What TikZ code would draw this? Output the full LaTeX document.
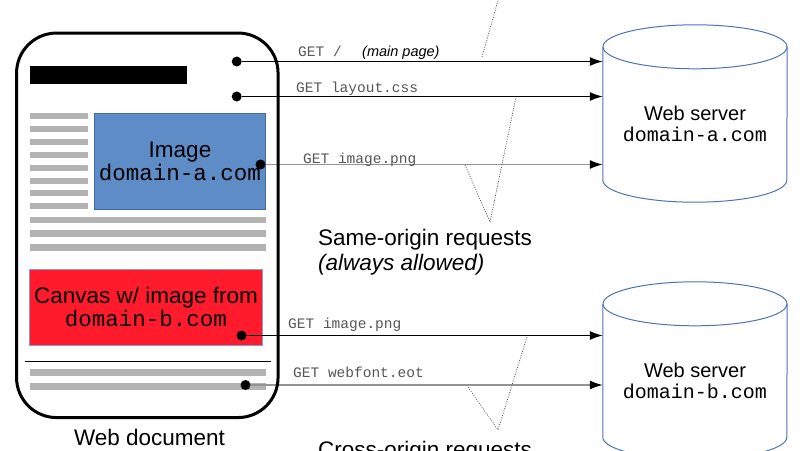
\documentclass[tikz,border=0pt]{standalone}
\usepackage{fontspec}
\setmainfont{Liberation Sans}
\setsansfont{Liberation Sans}
\setmonofont{Liberation Mono}
\usepackage{xcolor}
\usetikzlibrary{arrows.meta,positioning}
\definecolor{imgblue}{HTML}{5E8CC6}
\definecolor{imgedge}{HTML}{3F6AA8}
\definecolor{canvasred}{HTML}{FF1A2C}
\definecolor{textline}{HTML}{B3B3B3}
\definecolor{srvblue}{HTML}{4C72B8}
\definecolor{reqgray}{HTML}{555555}

\begin{document}
\begin{tikzpicture}[%
    x=1pt, y=-1pt,              % one unit per pixel, y running down
    >={Latex[length=13pt,width=9pt]},
    font=\fontsize{22.5}{23}\selectfont,
    ]
% -------------------------------------------------
% Styles
\tikzset{
big/.style={inner sep=0pt, font=\fontsize{22.5}{23}\selectfont},
docframe/.style={draw, line width=3pt, rounded corners=40pt,
    minimum width=261.5pt, minimum height=384.5pt},
imgbox/.style={big, fill=imgblue, draw=imgedge, line width=0.8pt, align=center,
    minimum width=171pt, minimum height=95.6pt},
canvasbox/.style={big, fill=canvasred, draw=srvblue!70, line width=0.8pt, align=center,
    minimum width=233pt, minimum height=76.7pt},
% server body spans the two end ellipse centres
server/.style={inner sep=0pt, minimum width=184pt, minimum height=133pt},
srvline/.style={draw=srvblue, line width=1pt},
srvtxt/.style={inner sep=0pt, align=center, font=\fontsize{20}{21}\selectfont},
dot/.style={circle, fill, inner sep=0pt, minimum size=10pt},
reqlbl/.style={anchor=base west, inner sep=0pt, text=reqgray,
    font=\ttfamily\fontsize{14.5}{15}\selectfont},
note/.style={big, anchor=base west},
% connector styles
req/.style={->, draw, line width=1.2pt},
softreq/.style={-{Latex[length=13pt,width=9pt,color=black]}, draw=gray!85, line width=1.4pt},
guide/.style={draw=gray!60!black, line width=0.7pt, dash pattern=on 1pt off 1.4pt},
}
\useasboundingbox (0,0) rectangle (800,450);
\clip (0,0) rectangle (800,450);

% -------------------------------------------------
% Page content
\fill (30,66) rectangle (187.3,84.3);
\foreach \y in {113.3,126.2,139,151.9,164.7,177.6,190.4,203.3}
    \fill[textline] (30,\y) rectangle (88,\y+6);
\foreach \y in {216.7,230,244.3,369.3,383.3}
    \fill[textline] (30,\y) rectangle (265.7,\y+6.5);
\draw[line width=1.2pt] (25,361.7) -- (270.7,361.7);

\node [imgbox] (imgA) at (180,161.5) {Image\\\texttt{domain-a.com}};
\node [canvasbox] (canvasB) at (146,307.3) {Canvas w/ image from\\\texttt{domain-b.com}};

% Servers (drawn as cylinders round the nodes)
\node [server] (srvA) at (695,113.5) {};
\node [server] (srvB) at (695,370.5) {};
\foreach \s in {srvA,srvB} {
    \draw [srvline] (\s.north) ellipse [x radius=92pt, y radius=22pt];
    \draw [srvline] (\s.north west) -- (\s.south west)
        arc [start angle=180, end angle=360, x radius=92pt, y radius=22pt]
        -- (\s.north east);
}
\node [srvtxt] (srvAname) at ([yshift=-10.5pt] srvA.center) {Web server\\\texttt{domain-a.com}};
\node [srvtxt] (srvBname) at ([yshift=-10.5pt] srvB.center) {Web server\\\texttt{domain-b.com}};

% Request origins
\node [dot] (getMain)   at (236.7,61.5) {};
\node [dot] (getCss)    at (236.7,96.5) {};
\node [dot] (getImgA)   at (260.5,164.5) {};
\node [dot] (getImgB)   at (241.5,335.5) {};
\node [dot] (getFont)   at (245.5,385) {};

% -------------------------------------------------
% Requests
\draw [req] (getMain) -- (getMain -| srvA.west);
\draw [req] (getCss) -- (getCss -| srvA.west);
\draw [softreq] (getImgA) -- (getImgA -| srvA.west);
\draw [req] (getImgB) -- (getImgB -| srvB.west);
\draw [softreq] (getFont) -- (getFont -| srvB.west);

\node [reqlbl] (lblMain) at (298,56) {GET /};
\node [reqlbl, text=black, font=\itshape\fontsize{14.5}{15}\selectfont] (lblMainNote) at (362,56) {(main page)};
\node [reqlbl] (lblCss)  at (296,92) {GET layout.css};
\node [reqlbl] (lblImgA) at (303,163.5) {GET image.png};
\node [reqlbl] (lblImgB) at (288,328.5) {GET image.png};
\node [reqlbl] (lblFont) at (293,377.5) {GET webfont.eot};

% Document frame and caption
\node [docframe] (doc) at (147.3,225.3) {};
\node [big, anchor=base] (docCap) at (149.5,445) {Web document};

% -------------------------------------------------
% Annotations
\node [note] (sameOrig) at (318,245) {Same-origin requests};
\node [note, font=\itshape\fontsize{22.5}{23}\selectfont] (sameNote) at (318,270) {(always allowed)};
\node [note] (crossOrig) at (318,457) {Cross-origin requests};

\coordinate (topTip)   at (482,57);
\coordinate (topEnd)   at (501,-10);
\coordinate (sameTip)  at (490,222);
\coordinate (sameA)    at (465,165);
\coordinate (sameB)    at (516,97);
\coordinate (crossTip) at (498,430);
\coordinate (crossA)   at (468,387);
\coordinate (crossB)   at (527,337);
\draw [guide] (topTip) -- (topEnd);
\draw [guide] (sameA) -- (sameTip) -- (sameB);
\draw [guide] (crossA) -- (crossTip) -- (crossB);

\end{tikzpicture}
\end{document}
